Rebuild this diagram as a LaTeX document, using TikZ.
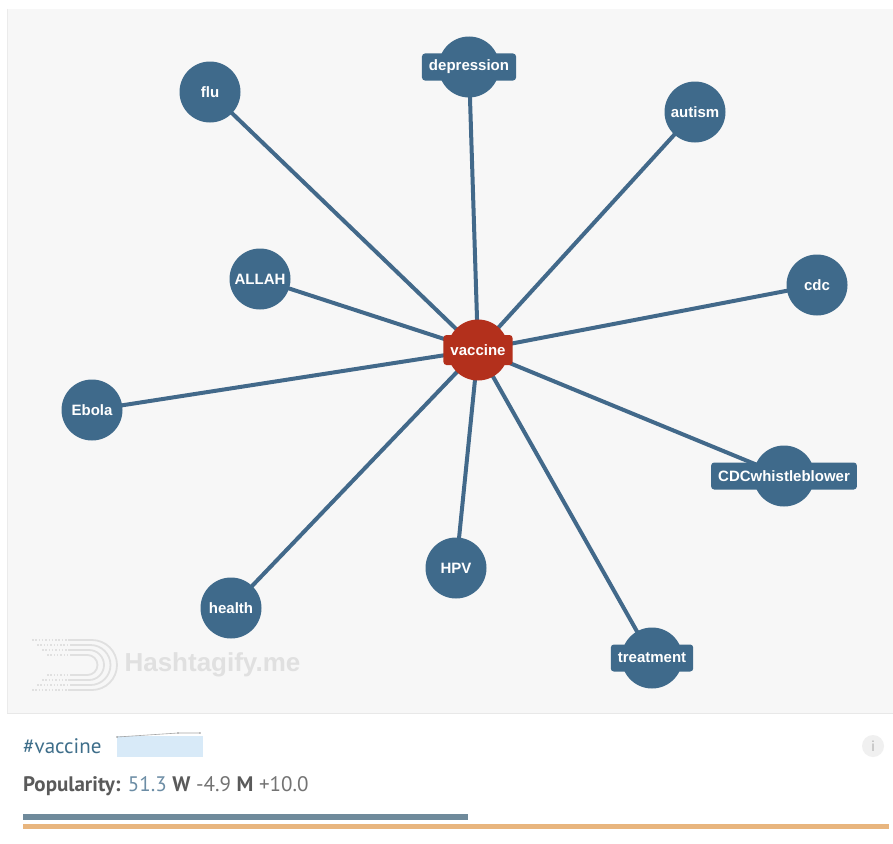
\documentclass[tikz,border=0pt]{standalone}
\usepackage{fontspec}
\setmainfont{Liberation Sans}
\newfontfamily\ptsans{PT Sans}
\pgfdeclarelayer{back}
\pgfdeclarelayer{edges}
\pgfsetlayers{back,edges,main}
\definecolor{nodeblue}{HTML}{3F6A8B}
\definecolor{edgeblue}{HTML}{42698A}
\definecolor{vaxred}{HTML}{B3301C}
\definecolor{panelgray}{HTML}{F7F7F7}
\definecolor{hashblue}{HTML}{3E6E8A}
\definecolor{popgray}{HTML}{5A5A5A}
\definecolor{numblue}{HTML}{6C8DA5}
\definecolor{barblue}{HTML}{6F8A9B}
\definecolor{barorange}{HTML}{E8B57E}
\definecolor{sparkfill}{HTML}{D8EAF8}
\definecolor{wmgray}{HTML}{E0E0E0}
\tikzset{
  x=1pt, y=-1pt,
  circ/.style={circle, fill=nodeblue, minimum size=61pt, inner sep=0pt},
  redcirc/.style={circle, fill=vaxred, minimum size=61pt, inner sep=0pt},
  lbl/.style={rounded corners=3pt, fill=nodeblue, text=white, inner xsep=7pt, inner ysep=4pt,
    font=\fontsize{15}{15}\selectfont\bfseries, minimum height=27pt},
  redlbl/.style={lbl, fill=vaxred, minimum height=30pt},
  link/.style={draw=edgeblue, line width=4pt},
  wmline/.style={draw=wmgray, line width=1.8pt},
  wmdots/.style={draw=wmgray, line width=1.8pt, dash pattern=on 1.5pt off 1.8pt},
}
\begin{document}
\begin{tikzpicture}
\useasboundingbox (0,0) rectangle (893,843);
\begin{pgfonlayer}{back}
  \fill[white] (0,0) rectangle (893,843);
  \fill[panelgray] (7,9) rectangle (893,713);
  \draw[line width=1pt, draw=black!8] (7,9) -- (7,713);
  \draw[line width=1.2pt, draw=black!9] (7,713.5) -- (893,713.5);
  % watermark logo
  \foreach \o in {0,5,10,15} {
    \draw[wmline] (70,640+\o) -- (92-\o*0.3,640+\o)
      arc[start angle=-90, end angle=90, radius=25-\o] -- (70,690-\o);
    \draw[wmdots] (32+\o,640+\o) -- (70,640+\o);
    \draw[wmdots] (32+\o,690-\o) -- (70,690-\o);
  }
  \node[anchor=west, text=wmgray, font=\fontsize{26}{26}\selectfont\bfseries] (wm) at (121,665) {Hashtagify.me};
\end{pgfonlayer}

% nodes
\node[redcirc] (vaccine) at (478,350) {};
\node[redlbl] (vaccinel) at (vaccine) {vaccine};
\node[circ] (depression) at (469,67) {};
\node[lbl] (depressionl) at (depression) {depression};
\node[circ] (flu) at (210,92) {};
\node[lbl, fill=none, draw=none] (flul) at (flu) {flu};
\node[circ] (autism) at (695,112) {};
\node[lbl, fill=none] (autisml) at (autism) {autism};
\node[circ] (allah) at (260,279) {};
\node[lbl, fill=none] (allahl) at (allah) {ALLAH};
\node[circ] (cdc) at (817,285) {};
\node[lbl, fill=none] (cdcl) at (cdc) {cdc};
\node[circ] (ebola) at (92,410) {};
\node[lbl, fill=none] (ebolal) at (ebola) {Ebola};
\node[circ] (whistle) at (784,476) {};
\node[lbl] (whistlel) at (whistle) {CDCwhistleblower};
\node[circ] (hpv) at (456,568) {};
\node[lbl, fill=none] (hpvl) at (hpv) {HPV};
\node[circ] (health) at (231,608) {};
\node[lbl, fill=none] (healthl) at (health) {health};
\node[circ] (treatment) at (652,658) {};
\node[lbl] (treatmentl) at (treatment) {treatment};

\begin{pgfonlayer}{edges}
  \foreach \n in {depression,flu,autism,allah,cdc,ebola,whistle,hpv,health,treatment}
    \draw[link] (vaccine.center) -- (\n.center);
\end{pgfonlayer}

% bottom panel
\node[anchor=west, text=hashblue, font=\ptsans\fontsize{21}{21}\selectfont, inner sep=0pt] (tag) at (23,746) {\#vaccine};
\fill[sparkfill] (117,736) rectangle (203,757);
\draw[black!35, line width=0.6pt] (117,737) -- (178,733) -- (200,733);
\fill[black!40] (117,737) circle (0.9pt) (178,733) circle (0.9pt) (200,733) circle (0.9pt);
\node[circle, fill=black!6, minimum size=22pt, inner sep=0pt, text=black!30, font=\ptsans\fontsize{15}{15}\selectfont] (info) at (873,746) {i};
\node[anchor=west, inner sep=0pt, font=\ptsans\fontsize{21}{21}\selectfont, text=popgray] (pop) at (23,786)
  {\textbf{Popularity:} \textcolor{numblue}{51.3} \textbf{W} \textcolor{black!55}{-4.9} \textbf{M} \textcolor{black!55}{+10.0}};
\fill[barblue] (23,814) rectangle (468,820);
\fill[barorange] (23,824) rectangle (889,829);
\end{tikzpicture}
\end{document}
